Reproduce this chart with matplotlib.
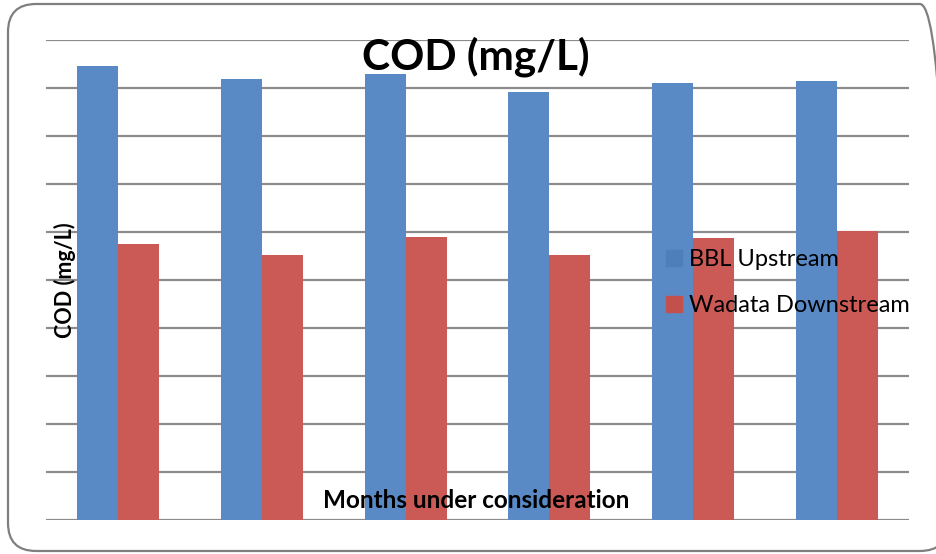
import numpy as np
import matplotlib.pyplot as plt
from matplotlib.patches import FancyBboxPatch

plt.rcParams['font.family'] = ['Lato', 'DejaVu Sans']

months = ['1', '2', '3', '4', '5', '6']
bbl_upstream = [9.46, 9.18, 9.29, 8.92, 9.10, 9.15]
wadata_downstream = [5.75, 5.52, 5.90, 5.52, 5.88, 6.02]

blue = '#5A8AC6'
red = '#CB5A57'

fig = plt.figure(figsize=(9.37, 5.54), dpi=100)
W, H = 937, 554

# outer rounded chart-area border
border = FancyBboxPatch((8 / W, 3 / H), 940 / W, 547 / H,
                        boxstyle='round,pad=0,rounding_size=0.03',
                        transform=fig.transFigure, fill=False,
                        edgecolor='#7f7f7f', linewidth=1.6,
                        mutation_aspect=W / H)
fig.patches.append(border)

ax = fig.add_axes([46 / W, (H - 520) / H, (909 - 46) / W, 480 / H])
x = np.arange(len(months))
w = 0.285
ax.bar(x - w / 2, bbl_upstream, w, color=blue, label='BBL Upstream', zorder=3)
ax.bar(x + w / 2, wadata_downstream, w, color=red, label='Wadata Downstream', zorder=3)

ax.set_xlim(-0.5, len(months) - 0.5)
ax.set_ylim(0, 10)
ax.set_yticks(np.arange(0, 11, 1))
ax.grid(axis='y', color='#8c8c8c', linewidth=1.6, zorder=0)
ax.tick_params(length=0, labelleft=False, labelbottom=False)
for s in ax.spines.values():
    s.set_visible(False)
ax.set_facecolor('none')

leg = ax.legend(loc='upper left', bbox_to_anchor=(611 / 863, 1 - 200 / 480),
                frameon=False, fontsize=17, handlelength=0.65, handleheight=0.65,
                handletextpad=0.3, labelspacing=1.05, borderaxespad=0)
leg.legend_handles[0].set_color('#4F7FB8')
leg.legend_handles[1].set_color('#C4504D')
leg.set_zorder(5)

fig.text(476 / W, 1 - 57 / H, 'COD (mg/L)', ha='center', va='center',
         fontsize=30.5, fontweight='bold', zorder=10)
fig.text(476 / W, 1 - 501 / H, 'Months under consideration', ha='center',
         va='center', fontsize=17.5, fontweight='bold', zorder=10)
fig.text(65 / W, 1 - 280 / H, 'COD (mg/L)', ha='center', va='center',
         rotation=90, fontsize=15.5, fontweight='bold', zorder=10)

fig.savefig('out.png', dpi=100)
